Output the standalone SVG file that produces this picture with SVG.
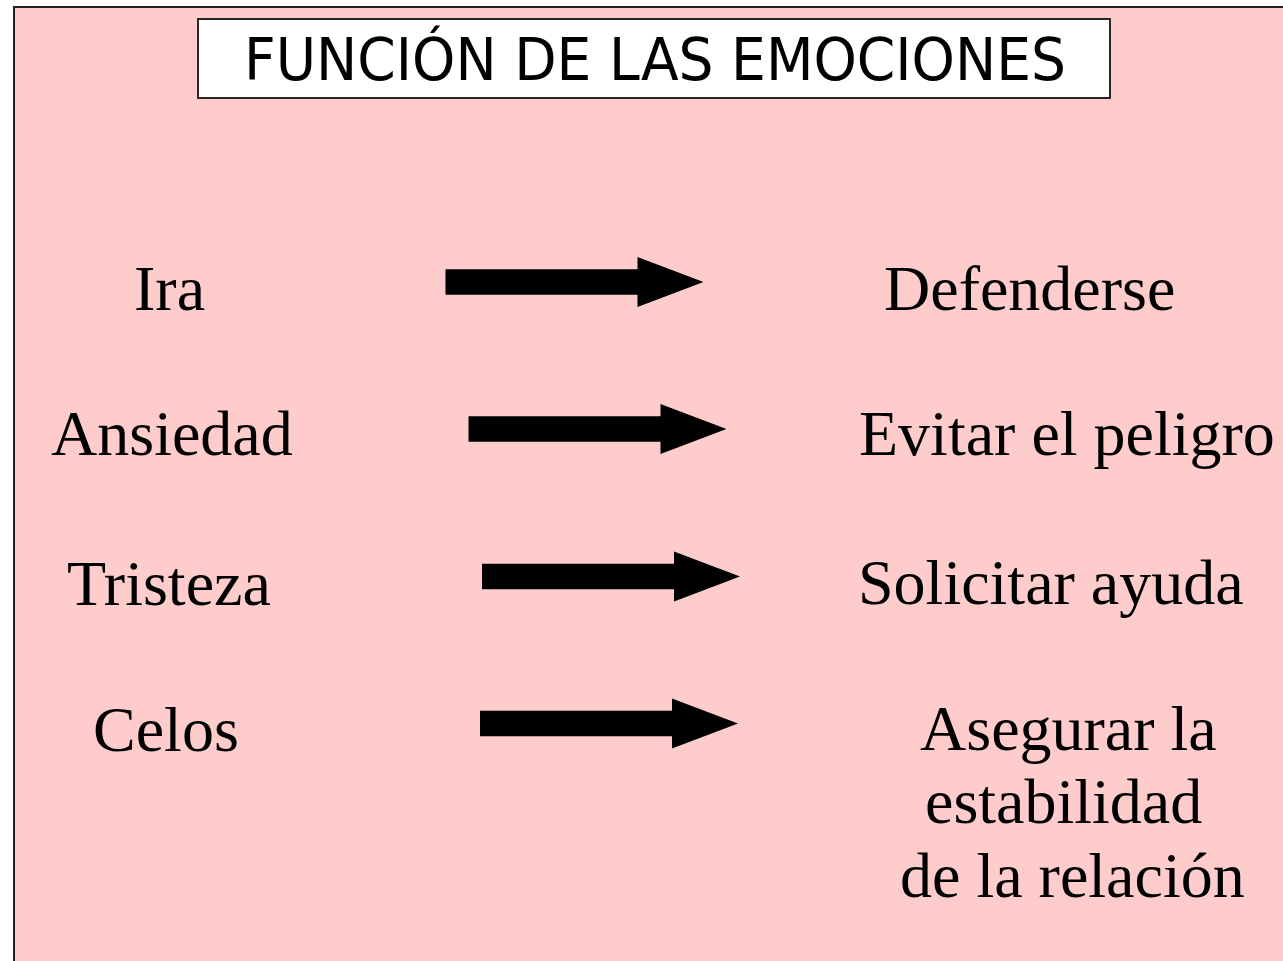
<svg xmlns="http://www.w3.org/2000/svg" xmlns:xlink="http://www.w3.org/1999/xlink" width="1283" height="961" viewBox="0 0 1283 961">
  <style>
    .lbl { font-family: "Liberation Serif", "Times New Roman", serif; font-size: 64px; fill: #000; }
    .title { font-family: "DejaVu Sans", "Liberation Sans", sans-serif; font-size: 58px; fill: #000; }
  </style>
  <defs>
    <path id="arrow" d="M0,-12.75 H192 V-25 L258,0 L192,25 V12.75 H0 Z" fill="#000"/>
  </defs>
  <rect x="0" y="0" width="1283" height="961" fill="#fff"/>
  <rect id="panel" x="14" y="7" width="1300" height="1000" fill="#FFCCCC" stroke="#222" stroke-width="2"/>
  <g id="title">
    <rect x="198" y="19" width="912" height="79" fill="#fff" stroke="#111" stroke-width="1.8"/>
    <text class="title" x="244" y="80" textLength="822" lengthAdjust="spacingAndGlyphs">FUNCIÓN DE LAS EMOCIONES</text>
  </g>
  <g id="emotions">
    <g id="ira"><text class="lbl" x="134" y="310">Ira</text></g>
    <g id="ansiedad"><text class="lbl" x="51" y="455">Ansiedad</text></g>
    <g id="tristeza"><text class="lbl" x="67" y="605">Tristeza</text></g>
    <g id="celos"><text class="lbl" x="93" y="751">Celos</text></g>
  </g>
  <g id="connectors">
    <use xlink:href="#arrow" href="#arrow" transform="translate(445.5,282)"/>
    <use xlink:href="#arrow" href="#arrow" transform="translate(468.5,429)"/>
    <use xlink:href="#arrow" href="#arrow" transform="translate(482,576.5)"/>
    <use xlink:href="#arrow" href="#arrow" transform="translate(480,723.5)"/>
  </g>
  <g id="functions">
    <g id="defenderse"><text class="lbl" x="884" y="310">Defenderse</text></g>
    <g id="evitar"><text class="lbl" x="859" y="455">Evitar el peligro</text></g>
    <g id="solicitar"><text class="lbl" x="858" y="604">Solicitar ayuda</text></g>
    <g id="asegurar">
      <text class="lbl" x="920" y="750">Asegurar la</text>
      <text class="lbl" x="925" y="823">estabilidad</text>
      <text class="lbl" x="900" y="897">de la relación</text>
    </g>
  </g>
</svg>
